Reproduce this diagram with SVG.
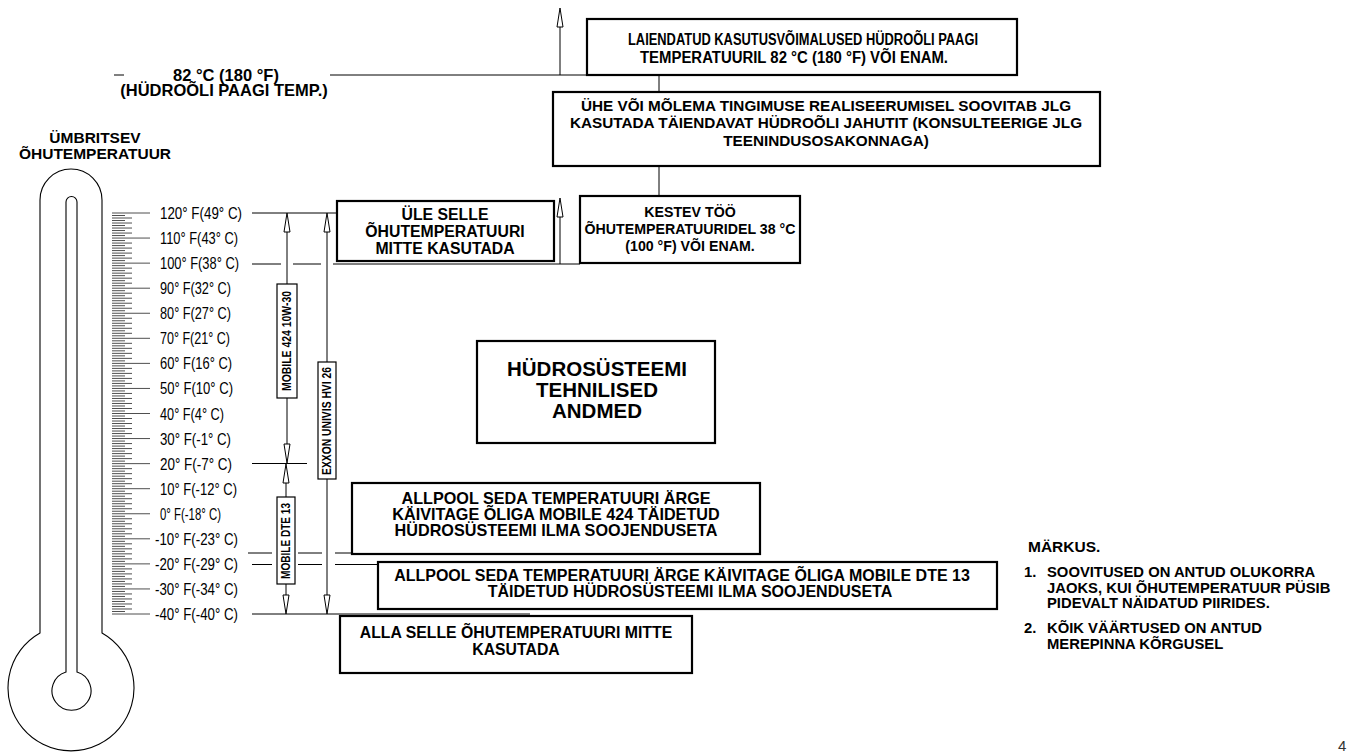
<svg xmlns="http://www.w3.org/2000/svg" xmlns:xlink="http://www.w3.org/1999/xlink" width="1351" height="753" viewBox="0 0 1351 753">
<style>
  text { font-family: "Liberation Sans", Arial, sans-serif; fill: #000; }
  .b { font-weight: bold; font-size: 15.5px; }
  .nt { font-weight: bold; font-size: 14.8px; }
  .bx { font-weight: bold; font-size: 15px; text-anchor: middle; }
  .sc { font-size: 16.5px; }
  .vt { font-weight: bold; font-size: 12px; text-anchor: middle; }
  .box { fill: #fff; stroke: #000; stroke-width: 2.2; }
  .vbox { fill: #fff; stroke: #000; stroke-width: 1.2; }
  .ln { stroke: #000; stroke-width: 1; fill: none; }
  .tk { stroke: #222; stroke-width: 0.8; fill: none; }
  .ah { fill: #fff; stroke: #000; stroke-width: 1; }
  .th { fill: none; stroke: #000; stroke-width: 1.1; }
</style>
<defs>
  <path id="blk" d="M112,0h38M112,2.506h13M112,5.013h20M112,7.519h13M112,10.025h20M112,12.531h13M112,15.038h20M112,17.544h13M112,20.05h20M112,22.556h13"/>
  <path id="up" d="M0,0 L-3,19 L3,19 Z"/>
  <path id="dn" d="M0,0 L-3,-19 L3,-19 Z"/>
</defs>
<rect width="1351" height="753" fill="#fff"/>

<g id="thermometer">
  <path class="th" d="M40,633 L40,200 A31,31 0 0 1 102,200 L102,633 A63,63 0 1 1 40,633 Z"/>
  <path class="th" d="M66,672 L66,202 A5.5,5.5 0 0 1 77,202 L77,672 A19.5,19.5 0 1 1 66,672 Z"/>
  <text class="b" x="95" y="143" text-anchor="middle">ÜMBRITSEV</text>
  <text class="b" x="95" y="159" text-anchor="middle">ÕHUTEMPERATUUR</text>
</g>

<g id="scale">
  <g class="tk">
    <use xlink:href="#blk" y="213"/>
    <use xlink:href="#blk" y="238.06"/>
    <use xlink:href="#blk" y="263.13"/>
    <use xlink:href="#blk" y="288.19"/>
    <use xlink:href="#blk" y="313.25"/>
    <use xlink:href="#blk" y="338.31"/>
    <use xlink:href="#blk" y="363.38"/>
    <use xlink:href="#blk" y="388.44"/>
    <use xlink:href="#blk" y="413.5"/>
    <use xlink:href="#blk" y="438.56"/>
    <use xlink:href="#blk" y="463.63"/>
    <use xlink:href="#blk" y="488.69"/>
    <use xlink:href="#blk" y="513.75"/>
    <use xlink:href="#blk" y="538.81"/>
    <use xlink:href="#blk" y="563.88"/>
    <use xlink:href="#blk" y="588.94"/>
    <path d="M112,614h38"/>
  </g>
  <text class="sc" x="160" y="219" textLength="82" lengthAdjust="spacingAndGlyphs">120° F(49° C)</text>
  <text class="sc" x="160" y="244.1" textLength="78" lengthAdjust="spacingAndGlyphs">110° F(43° C)</text>
  <text class="sc" x="160" y="269.1" textLength="79" lengthAdjust="spacingAndGlyphs">100° F(38° C)</text>
  <text class="sc" x="160" y="294.2" textLength="71" lengthAdjust="spacingAndGlyphs">90° F(32° C)</text>
  <text class="sc" x="160" y="319.3" textLength="71" lengthAdjust="spacingAndGlyphs">80° F(27° C)</text>
  <text class="sc" x="160" y="344.3" textLength="70" lengthAdjust="spacingAndGlyphs">70° F(21° C)</text>
  <text class="sc" x="160" y="369.4" textLength="72" lengthAdjust="spacingAndGlyphs">60° F(16° C)</text>
  <text class="sc" x="160" y="394.4" textLength="73" lengthAdjust="spacingAndGlyphs">50° F(10° C)</text>
  <text class="sc" x="160" y="419.5" textLength="64" lengthAdjust="spacingAndGlyphs">40° F(4° C)</text>
  <text class="sc" x="160" y="444.6" textLength="71" lengthAdjust="spacingAndGlyphs">30° F(-1° C)</text>
  <text class="sc" x="160" y="469.6" textLength="72" lengthAdjust="spacingAndGlyphs">20° F(-7° C)</text>
  <text class="sc" x="160" y="494.7" textLength="77" lengthAdjust="spacingAndGlyphs">10° F(-12° C)</text>
  <text class="sc" x="160" y="519.8" textLength="61" lengthAdjust="spacingAndGlyphs">0° F(-18° C)</text>
  <text class="sc" x="155" y="544.8" textLength="83" lengthAdjust="spacingAndGlyphs">-10° F(-23° C)</text>
  <text class="sc" x="155" y="569.9" textLength="83" lengthAdjust="spacingAndGlyphs">-20° F(-29° C)</text>
  <text class="sc" x="155" y="594.9" textLength="83" lengthAdjust="spacingAndGlyphs">-30° F(-34° C)</text>
  <text class="sc" x="155" y="620" textLength="83" lengthAdjust="spacingAndGlyphs">-40° F(-40° C)</text>
</g>

<g id="connectors">
  <path class="ln" d="M114,75H124 M330,75H587"/>
  <path class="ln" d="M560,75V27"/>
  <use class="ah" xlink:href="#up" x="560" y="8"/>
  <path class="ln" d="M659,75V92 M659,166V196"/>
  <path class="ln" d="M252,213H337"/>
  <path class="ln" d="M252,264H281 M293,264H321 M333,264H580"/>
  <path class="ln" d="M560,264V217"/>
  <use class="ah" xlink:href="#up" x="560" y="198"/>
  <path class="ln" d="M252,463.5H307"/>
  <path class="ln" d="M248,553H272 M298,553H322 M335,553H352"/>
  <path class="ln" d="M252,564.5H272 M298,564.5H322 M335,564.5H378"/>
  <path class="ln" d="M252,614H530"/>
  <path class="ln" d="M287,232V284 M287,398V445"/>
  <use class="ah" xlink:href="#up" x="287" y="213"/>
  <use class="ah" xlink:href="#dn" x="287" y="463"/>
  <path class="ln" d="M286,483V497 M286,584V596"/>
  <use class="ah" xlink:href="#up" x="286" y="464"/>
  <use class="ah" xlink:href="#dn" x="286" y="614"/>
  <path class="ln" d="M327,232V362 M327,479V596"/>
  <use class="ah" xlink:href="#up" x="327" y="213"/>
  <use class="ah" xlink:href="#dn" x="327" y="614"/>
</g>

<g id="label-82">
  <text class="b" x="226" y="80.5" text-anchor="middle" style="font-size:16.5px">82 °C (180 °F)</text>
  <text class="b" x="224" y="96" text-anchor="middle" style="font-size:16.5px">(HÜDROÕLI PAAGI TEMP.)</text>
</g>

<g id="box-laiendatud">
  <rect class="box" x="587" y="19" width="430" height="56"/>
  <text class="bx" x="803" y="45" textLength="350" lengthAdjust="spacingAndGlyphs" style="font-size:15.6px">LAIENDATUD KASUTUSVÕIMALUSED HÜDROÕLI PAAGI</text>
  <text class="bx" x="794" y="63" textLength="308" lengthAdjust="spacingAndGlyphs" style="font-size:15.6px">TEMPERATUURIL 82 °C (180 °F) VÕI ENAM.</text>
</g>

<g id="box-jahuti">
  <rect class="box" x="553" y="92" width="547" height="74"/>
  <text class="bx" x="826" y="110.5" style="font-size:15.3px">ÜHE VÕI MÕLEMA TINGIMUSE REALISEERUMISEL SOOVITAB JLG</text>
  <text class="bx" x="826" y="128" style="font-size:15.3px">KASUTADA TÄIENDAVAT HÜDROÕLI JAHUTIT (KONSULTEERIGE JLG</text>
  <text class="bx" x="826" y="145.5" style="font-size:15.3px">TEENINDUSOSAKONNAGA)</text>
</g>

<g id="box-kestev">
  <rect class="box" x="580" y="196" width="220" height="67"/>
  <text class="bx" x="690" y="217" style="font-size:14.2px">KESTEV TÖÖ</text>
  <text class="bx" x="690" y="234" style="font-size:14.2px">ÕHUTEMPERATUURIDEL 38 °C</text>
  <text class="bx" x="690" y="251" style="font-size:14.2px">(100 °F) VÕI ENAM.</text>
</g>

<g id="box-ule">
  <rect class="box" x="337" y="201" width="217" height="60"/>
  <text class="bx" x="445" y="219.5" style="font-size:15.8px">ÜLE SELLE</text>
  <text class="bx" x="445" y="236.5" style="font-size:15.8px">ÕHUTEMPERATUURI</text>
  <text class="bx" x="445" y="253.5" style="font-size:15.8px">MITTE KASUTADA</text>
</g>

<g id="box-title">
  <rect class="box" x="477" y="341" width="238" height="102"/>
  <text class="bx" x="597" y="376" style="font-size:20.5px">HÜDROSÜSTEEMI</text>
  <text class="bx" x="597" y="397" style="font-size:20.5px">TEHNILISED</text>
  <text class="bx" x="597" y="418" style="font-size:20.5px">ANDMED</text>
</g>

<g id="box-mobile424">
  <rect class="box" x="352" y="483" width="408" height="71"/>
  <text class="bx" x="556" y="504" style="font-size:16.2px">ALLPOOL SEDA TEMPERATUURI ÄRGE</text>
  <text class="bx" x="556" y="520" style="font-size:16.2px">KÄIVITAGE ÕLIGA MOBILE 424 TÄIDETUD</text>
  <text class="bx" x="556" y="536" style="font-size:16.2px">HÜDROSÜSTEEMI ILMA SOOJENDUSETA</text>
</g>

<g id="box-dte13">
  <rect class="box" x="378" y="562" width="619" height="47"/>
  <text class="bx" x="682" y="581" style="font-size:16px">ALLPOOL SEDA TEMPERATUURI ÄRGE KÄIVITAGE ÕLIGA MOBILE DTE 13</text>
  <text class="bx" x="690" y="597" style="font-size:16px">TÄIDETUD HÜDROSÜSTEEMI ILMA SOOJENDUSETA</text>
</g>

<g id="box-alla">
  <rect class="box" x="340" y="616" width="352" height="57"/>
  <text class="bx" x="516" y="638" style="font-size:15.8px">ALLA SELLE ÕHUTEMPERATUURI MITTE</text>
  <text class="bx" x="516" y="655" style="font-size:15.8px">KASUTADA</text>
</g>

<g id="label-mobile424">
  <rect class="vbox" x="277" y="284" width="20" height="114"/>
  <text class="vt" transform="translate(291.3,341) rotate(-90)" textLength="100" lengthAdjust="spacingAndGlyphs">MOBILE 424 10W-30</text>
</g>
<g id="label-dte13">
  <rect class="vbox" x="277" y="497" width="18" height="87"/>
  <text class="vt" transform="translate(290.3,541) rotate(-90)" textLength="76" lengthAdjust="spacingAndGlyphs">MOBILE DTE 13</text>
</g>
<g id="label-exxon">
  <rect class="vbox" x="318" y="362" width="18" height="117"/>
  <text class="vt" transform="translate(331.3,421) rotate(-90)" textLength="108" lengthAdjust="spacingAndGlyphs">EXXON UNIVIS HVI 26</text>
</g>

<g id="notes">
  <text class="b" x="1028" y="552">MÄRKUS.</text>
  <text class="nt" x="1024" y="577">1.</text>
  <text class="nt" x="1047" y="577">SOOVITUSED ON ANTUD OLUKORRA</text>
  <text class="nt" x="1047" y="592.5">JAOKS, KUI ÕHUTEMPERATUUR PÜSIB</text>
  <text class="nt" x="1047" y="608">PIDEVALT NÄIDATUD PIIRIDES.</text>
  <text class="nt" x="1024" y="633">2.</text>
  <text class="nt" x="1047" y="633">KÕIK VÄÄRTUSED ON ANTUD</text>
  <text class="nt" x="1047" y="648.5">MEREPINNA KÕRGUSEL</text>
</g>

<text x="1338" y="751" style="font-size:15px;fill:#333">4</text>
</svg>
